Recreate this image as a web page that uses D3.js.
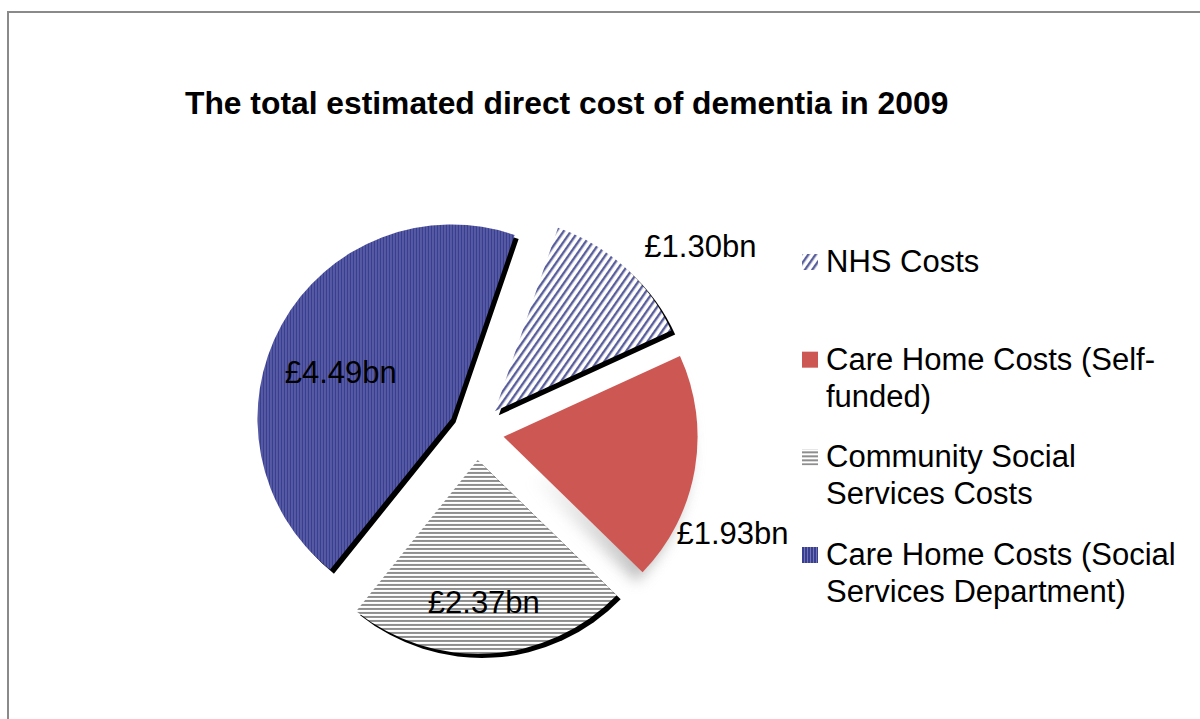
<!DOCTYPE html>
<html>
<head>
<meta charset="utf-8">
<script src="https://cdn.jsdelivr.net/npm/d3@7"></script>
<style>
  body { margin: 0; background: #fff; }
  svg { display: block; font-family: "Liberation Sans", Arial, sans-serif; }
</style>
</head>
<body>
<svg id="chart" width="1200" height="719"></svg>
<script>
// data
const categories = ["NHS Costs", "Care Home Costs (Self-funded)", "Community Social Services Costs", "Care Home Costs (Social Services Department)"];
const values = [1.30, 1.93, 2.37, 4.49];
const legendLines = [["NHS Costs"], ["Care Home Costs (Self-", "funded)"], ["Community Social", "Services Costs"], ["Care Home Costs (Social", "Services Department)"]];
const title = "The total estimated direct cost of dementia in 2009";

const width = 1200, height = 719;
const cx = 476, cy = 432, radius = 194, explode = 28;
const startDeg = 19;

const svg = d3.select("#chart");
const defs = svg.append("defs");

// fill patterns
const pNhs = defs.append("pattern").attr("id", "pNhs")
    .attr("patternUnits", "userSpaceOnUse").attr("width", 6).attr("height", 6)
    .attr("patternTransform", "rotate(35)");
pNhs.append("rect").attr("width", 6).attr("height", 6).attr("fill", "#fff");
pNhs.append("rect").attr("width", 2.4).attr("height", 6).attr("fill", "#5a5f9c");

const pSsd = defs.append("pattern").attr("id", "pSsd")
    .attr("patternUnits", "userSpaceOnUse").attr("width", 3).attr("height", 3);
pSsd.append("rect").attr("width", 3).attr("height", 3).attr("fill", "#3a3e91");
pSsd.append("rect").attr("x", 2).attr("width", 1).attr("height", 3).attr("fill", "#7074b5");

const pCom = defs.append("pattern").attr("id", "pCom")
    .attr("patternUnits", "userSpaceOnUse").attr("width", 4).attr("height", 4);
pCom.append("rect").attr("width", 4).attr("height", 4).attr("fill", "#fff");
pCom.append("rect").attr("width", 4).attr("height", 2).attr("fill", "#8e8e8e");

const fills = ["url(#pNhs)", "#cd5753", "url(#pCom)", "url(#pSsd)"];

const blur = defs.append("filter").attr("id", "softShadow")
    .attr("x", "-50%").attr("y", "-50%").attr("width", "200%").attr("height", "200%");
blur.append("feGaussianBlur").attr("stdDeviation", 7);

// shadow of the red slice fades towards the centre
const fade = defs.append("linearGradient").attr("id", "fadeGrad")
    .attr("gradientUnits", "userSpaceOnUse")
    .attr("x1", 30).attr("y1", 30).attr("x2", 130).attr("y2", 130);
fade.append("stop").attr("offset", 0).attr("stop-color", "#fff").attr("stop-opacity", 0);
fade.append("stop").attr("offset", 1).attr("stop-color", "#fff").attr("stop-opacity", 1);
defs.append("mask").attr("id", "fadeMask")
    .attr("maskUnits", "userSpaceOnUse")
    .attr("x", -300).attr("y", -300).attr("width", 600).attr("height", 600)
    .append("rect").attr("x", -300).attr("y", -300).attr("width", 600).attr("height", 600)
    .attr("fill", "url(#fadeGrad)");

// chart frame
svg.append("rect")
    .attr("x", 8).attr("y", 12)
    .attr("width", width + 100).attr("height", height + 100)
    .attr("fill", "none").attr("stroke", "#8a8a8a").attr("stroke-width", 2);

svg.append("text")
    .attr("x", 185).attr("y", 114)
    .attr("font-size", 31.8).attr("font-weight", "bold").attr("fill", "#000")
    .text(title);

const pie = d3.pie().sort(null)
    .startAngle(startDeg * Math.PI / 180)
    .endAngle(startDeg * Math.PI / 180 + 2 * Math.PI);
const arcs = pie(values);
const arc = d3.arc().innerRadius(0).outerRadius(radius);

function shift(d) {
    const a = (d.startAngle + d.endAngle) / 2;
    return [explode * Math.sin(a), -explode * Math.cos(a)];
}

const g = svg.append("g").attr("transform", `translate(${cx},${cy})`);

// shadows
g.selectAll("g.shadow")
    .data(arcs)
    .join("g")
    .attr("class", "shadow")
    .attr("transform", d => {
        const [dx, dy] = shift(d);
        return d.index === 1 ? `translate(${dx - 6},${dy + 10})` : `translate(${dx + 4},${dy + 4})`;
    })
    .attr("mask", d => d.index === 1 ? "url(#fadeMask)" : null)
    .append("path")
    .attr("d", arc)
    .attr("fill", d => d.index === 1 ? "#9a9a9a" : "#000")
    .attr("opacity", d => d.index === 1 ? 0.6 : 1)
    .attr("filter", d => d.index === 1 ? "url(#softShadow)" : null);

g.selectAll("path.slice")
    .data(arcs)
    .join("path")
    .attr("class", "slice")
    .attr("d", arc)
    .attr("transform", d => `translate(${shift(d)})`)
    .attr("fill", (d, i) => fills[i]);

// data labels: radius factor and angle nudge (deg) per slice
const labelPlace = [[1.36, 9], [1.28, 13], [0.73, 1], [0.62, -6]];
g.selectAll("text.label")
    .data(arcs)
    .join("text")
    .attr("class", "label")
    .attr("transform", d => {
        const [dx, dy] = shift(d);
        const [k, nudge] = labelPlace[d.index];
        const a = (d.startAngle + d.endAngle) / 2 + nudge * Math.PI / 180;
        return `translate(${dx + Math.sin(a) * k * radius},${dy - Math.cos(a) * k * radius})`;
    })
    .attr("text-anchor", "middle")
    .attr("dy", "0.36em")
    .attr("font-size", 31)
    .attr("fill", "#000")
    .text(d => "£" + d3.format(".2f")(d.data) + "bn");

// legend
const legendY = d3.scalePoint().domain(d3.range(categories.length)).range([272, 565]);
const legend = svg.append("g").attr("transform", "translate(802,0)");
const item = legend.selectAll("g")
    .data(categories)
    .join("g")
    .attr("transform", (d, i) => `translate(0,${legendY(i)})`);

item.append("rect")
    .attr("x", 0).attr("y", -18).attr("width", 16).attr("height", 16)
    .attr("fill", (d, i) => fills[i]);

item.append("text")
    .attr("x", 24)
    .attr("font-size", 31)
    .attr("fill", "#000")
    .selectAll("tspan")
    .data((d, i) => legendLines[i])
    .join("tspan")
    .attr("x", 24)
    .attr("dy", (d, j) => j === 0 ? 0 : 37)
    .text(d => d);
</script>
</body>
</html>
